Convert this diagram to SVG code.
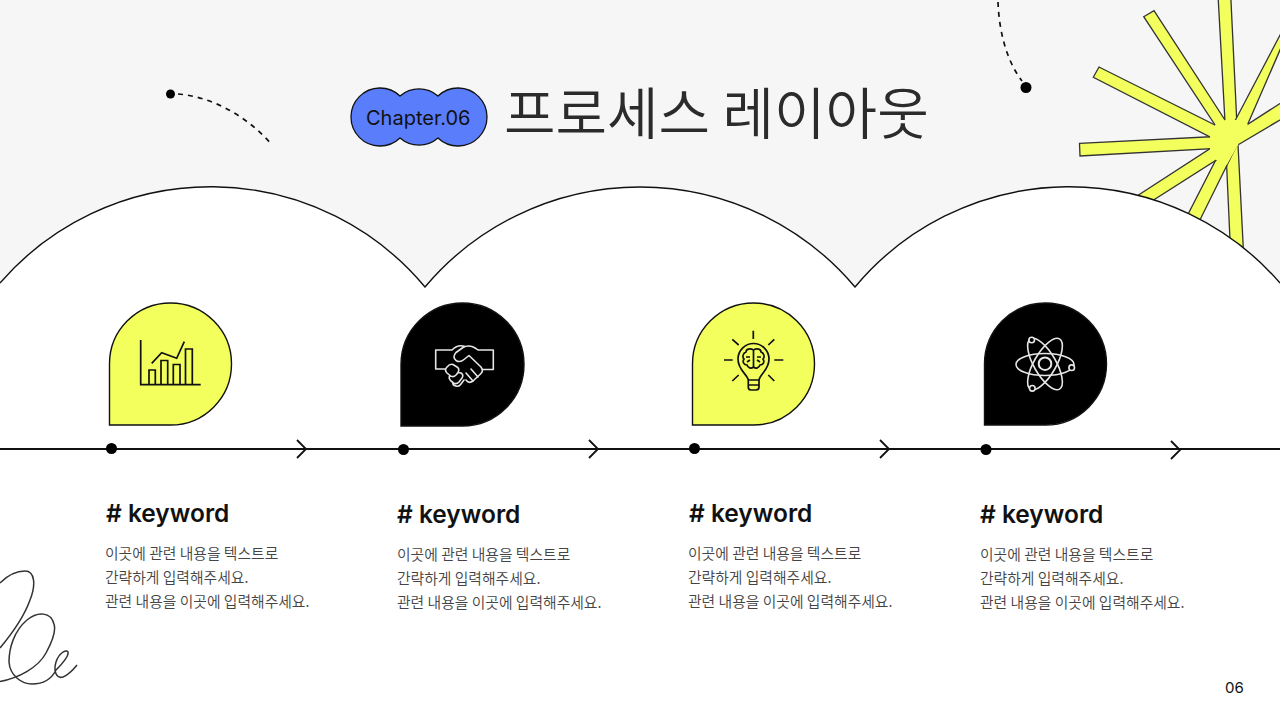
<svg xmlns="http://www.w3.org/2000/svg" width="1280" height="720" viewBox="0 0 1280 720">
<style>
.ko{font-family:"Noto Sans CJK KR","Noto Sans",sans-serif}
.kw{font-family:Inter,"Noto Sans",sans-serif;font-size:24.5px;font-weight:600;fill:#111}
.bd{font-size:14.8px;fill:#444;font-weight:350}
.drop{stroke:#111;stroke-width:1.4}
.y{fill:#f2ff5c}
.k{fill:#000}
.il{fill:none;stroke:#111;stroke-width:1.7}
.iw{fill:none;stroke:#e6e6e6;stroke-width:1.6;stroke-linecap:round;stroke-linejoin:round}
.dash{fill:none;stroke:#111;stroke-width:1.7;stroke-dasharray:5 5}
.conn{fill:none;stroke:#111;stroke-width:1.8}
.ray{fill:#f2ff5c;stroke:#333;stroke-width:1.3}
</style>
<rect width="1280" height="720" fill="#f6f6f7"/>
<g id="star">
<polygon class="ray" points="1079.5,143.3 1225,136 1225,148 1080,156"/>
<polygon class="ray" points="1093.3,77.3 1099,67 1227,131 1222,143"/>
<polygon class="ray" points="1143.7,16.7 1154,10.7 1236,137 1225,140"/>
<polygon class="ray" points="1218,-5 1230.7,-5 1237.700,140 1226,140"/>
<polygon class="ray" points="1290,16 1290,27 1240,142 1226,138"/>
<polygon class="ray" points="1290,97 1290,114 1226,152 1225,139"/>
<polygon class="ray" points="1225.700,145 1237,125 1244,262 1231,262"/>
<polygon class="ray" points="1180,230 1192,236 1236,147 1226,140"/>
<polygon class="ray" points="1120,207 1130,215 1232,150 1225,139"/>
<polygon fill="#f2ff5c" points="1210,136.700 1215,125 1225,120 1236.700,120 1248,124 1238,145 1226.700,165 1216,160 1210,149"/>
</g>
<path id="hills" d="M0,283 A279,279 0 0 1 425,287 A281,281 0 0 1 855,287 A279,279 0 0 1 1280,283 V720 H0 Z" fill="#fff"/>
<path d="M0,283 A279,279 0 0 1 425,287 A281,281 0 0 1 855,287 A279,279 0 0 1 1280,283" fill="none" stroke="#111" stroke-width="1.4"/>
<g id="deco">
<path class="dash" d="M178,94 C215,97 250,119 272,145"/>
<circle cx="170.500" cy="94" r="4.500" fill="#000"/>
<path class="dash" d="M998,2 C999,30 1006,60 1022,81"/>
<circle cx="1026" cy="87.500" r="5.500" fill="#000"/>
<path fill="none" stroke="#333" stroke-width="1.500" d="M0,583 C8,575 17,571 25,571 C35,571 36,585 30,600 C24,617 10,636 0,648"/>
<path fill="none" stroke="#333" stroke-width="1.500" d="M0,681.500 C18,678 38,668 46,653 C52,642 56,630 54,624 C51,612 38,611 27,620 C14,631 9,648 9,662 C10,676 22,684 32,684 C44,684 52,678 56,670 C62,664 69,656 68,652 C66,649 59,653 56,662 C53,672 57,679 63,677 C68,675 73,670 77,665"/>
</g>
<g id="chapter">
<path d="M400,96 A29,29 0 0 1 438,96 A29,29 0 1 1 438,138 A29,29 0 0 1 400,138 A29,29 0 1 1 400,96 Z" fill="#5a7dfb" stroke="#111" stroke-width="1.300"/>
<text x="366" y="124.500" font-family="Inter,'Noto Sans',sans-serif" font-size="20" fill="#111">Chapter.06</text>
</g>
<text id="title" class="ko" x="504" y="134" font-size="56" fill="#2b2b2b" font-weight="350">프로세스 레이아웃</text>
<g id="connectors">
<path class="conn" d="M0,449 H1280"/>
<path class="conn" d="M297,440 L306,449 L297,458 M589,440 L598,449 L589,458 M880,440 L889,449 L880,458 M1171,441 L1180,450 L1171,459"/>
<circle cx="111.500" cy="448.500" r="5.500" fill="#000"/>
<circle cx="403.500" cy="449.500" r="5.500" fill="#000"/>
<circle cx="694.500" cy="448.500" r="5.500" fill="#000"/>
<circle cx="986" cy="449.500" r="5.500" fill="#000"/>
</g>
<g id="node1">
<path class="drop y" d="M109.500,425 V364 A61,61 0 1 1 170.500,425 Z"/>
<path class="il" d="M140.700,340 V384.700 H200.700 M149,384.700 V370 H155.300 V384.700 M161,384.700 V360.500 H167.700 V384.700 M173.300,384.700 V364.500 H180 V384.700 M185.500,384.700 V349 H192.300 V384.700 M151.700,363.300 L161.700,352.700 L176.700,358.300 L184.300,341.700"/>
<text class="kw" x="106" y="522"># keyword</text>
<text class="ko bd"><tspan x="105" y="559">이곳에 관련 내용을 텍스트로</tspan><tspan x="105" y="583">간략하게 입력해주세요.</tspan><tspan x="105" y="607">관련 내용을 이곳에 입력해주세요.</tspan></text>
</g>
<g id="node2">
<path class="drop k" d="M401,426 V364.500 A61.500,61.500 0 1 1 462.500,426 Z"/>
<path class="iw" d="M445,369 H435.700 V350 H452 Q458,344 465,346.500 M493.300,350 H478 Q470,343.500 463,347.500 L456,352.500 Q452,357 456,360.500 Q460,363 464,359.500 L469,355.500 L481,367 Q484,371 480.500,374 L473,381 Q469,384 466,380 M483.300,369.500 H493.300 V350"/>
<path class="iw" d="M447,367 Q444,370 447,373 L450,375.500 Q453,378 456,375 L458,372.500 Q460,369 457,367 L453,364.500 Q450,363.500 447,367 M450,375.500 Q448,378 451,381 L453,382.500 Q456,385 459,382 L462,378 Q464,375 461,373 L458,372.500 M453,382.500 Q452,385 456,386 Q459,387 461,384 L464,380 M473,381 L466,373 M478,377 L471,369"/>
<text class="kw" x="397" y="523"># keyword</text>
<text class="ko bd"><tspan x="397" y="560">이곳에 관련 내용을 텍스트로</tspan><tspan x="397" y="584">간략하게 입력해주세요.</tspan><tspan x="397" y="608">관련 내용을 이곳에 입력해주세요.</tspan></text>
</g>
<g id="node3">
<path class="drop y" d="M692.500,425 V364 A61,61 0 1 1 753.500,425 Z"/>
<path class="il" d="M753.300,330.700 V339 M724,360 H732.700 M774.300,360 H783.300 M732.300,339.300 L738.700,345 M774.300,339.300 L768.300,345 M732.300,381 L738.700,375 M774.300,381 L768.300,375"/>
<path class="il" d="M748.300,380 C747,374 738,370 738,359 A15.500,15.500 0 1 1 769,359 C769,370 760,374 759,380 Z M748.300,380 V387 Q748.300,390 751,390 H756 Q759,390 759,387 V380 M748.300,385 H759"/>
<path class="il" d="M753.500,350 V368 M753.500,350 C750,348 746,349 746,352 C743,353 742,357 744,359 C742,362 744,365 747,365 C748,368 751,369 753.500,367 C756,369 759,368 760,365 C763,365 765,362 763,359 C765,357 764,353 761,352 C761,349 757,348 753.500,350 M746,357 H750 M757,357 H761 M747,362 L750,360 M760,362 L757,360"/>
<text class="kw" x="689" y="522"># keyword</text>
<text class="ko bd"><tspan x="688" y="559">이곳에 관련 내용을 텍스트로</tspan><tspan x="688" y="583">간략하게 입력해주세요.</tspan><tspan x="688" y="607">관련 내용을 이곳에 입력해주세요.</tspan></text>
</g>
<g id="node4">
<path class="drop k" d="M984.500,425 V364 A61,61 0 1 1 1045.500,425 Z"/>
<g class="iw">
<circle cx="1045" cy="363.700" r="6.300" stroke-width="2"/>
<ellipse cx="1045" cy="364.500" rx="29" ry="11"/>
<ellipse cx="1045" cy="364" rx="29" ry="11" transform="rotate(60 1045 364)"/>
<ellipse cx="1045" cy="364" rx="29" ry="11" transform="rotate(-60 1045 364)"/>
<circle cx="1031.700" cy="340" r="2.800" fill="#000"/>
<circle cx="1071.700" cy="367.700" r="2.800" fill="#000"/>
<circle cx="1032.300" cy="388.300" r="2.800" fill="#000"/>
</g>
<text class="kw" x="980" y="523"># keyword</text>
<text class="ko bd"><tspan x="980" y="560">이곳에 관련 내용을 텍스트로</tspan><tspan x="980" y="584">간략하게 입력해주세요.</tspan><tspan x="980" y="608">관련 내용을 이곳에 입력해주세요.</tspan></text>
</g>
<text id="page" x="1225" y="693" font-family="Inter,'Liberation Sans',sans-serif" font-size="15" fill="#111">06</text>
</svg>
